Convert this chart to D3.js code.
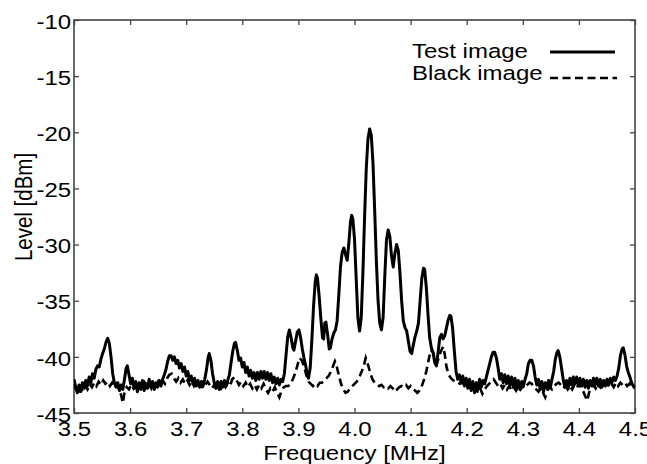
<!DOCTYPE html>
<html>
<head>
<meta charset="utf-8">
<script src="https://cdn.jsdelivr.net/npm/d3@7"></script>
<style>
  body { margin: 0; background: #fff; }
  text { font-family: "Liberation Sans", Arial, sans-serif; fill: #000; }
</style>
</head>
<body>
<svg id="chart" width="647" height="464"></svg>
<script>
// x ticks (MHz) and y ticks (dBm)
var freqTicks = [3.5, 3.6, 3.7, 3.8, 3.9, 4.0, 4.1, 4.2, 4.3, 4.4, 4.5];
var levelTicks = [-45, -40, -35, -30, -25, -20, -15, -10];
var seriesNames = ["Test image", "Black image"];

// Test image spectrum [frequency MHz, level dBm]
var testSeries = [
  [3.500, -42.0], [3.503, -42.7], [3.506, -43.2], [3.509, -42.5], [3.512, -43.1], [3.515, -42.3], [3.518, -42.8],
  [3.521, -42.1], [3.524, -42.6], [3.527, -41.8], [3.530, -42.3], [3.533, -41.5], [3.536, -41.9], [3.539, -41.1],
  [3.542, -40.8], [3.545, -40.9], [3.548, -40.2], [3.551, -39.7], [3.554, -39.3], [3.557, -38.7], [3.560, -38.35],
  [3.563, -38.8], [3.566, -40.0], [3.569, -41.5], [3.572, -42.3], [3.575, -42.7], [3.578, -42.3], [3.581, -43.0],
  [3.584, -42.5], [3.587, -42.9], [3.590, -42.0], [3.593, -41.0], [3.595, -40.8], [3.598, -41.6], [3.601, -42.4],
  [3.604, -41.9], [3.607, -42.8], [3.610, -42.2], [3.613, -43.1], [3.616, -42.3], [3.619, -42.9], [3.622, -42.1],
  [3.625, -43.0], [3.628, -42.4], [3.631, -42.8], [3.634, -42.0], [3.637, -42.7], [3.640, -42.2], [3.643, -42.9],
  [3.646, -42.3], [3.649, -42.7], [3.652, -42.1], [3.655, -42.6], [3.658, -42.0], [3.661, -41.6], [3.664, -41.1],
  [3.667, -40.4], [3.670, -39.9], [3.673, -39.9], [3.676, -40.3], [3.679, -40.0], [3.682, -40.6], [3.685, -40.3],
  [3.688, -41.0], [3.691, -40.6], [3.694, -41.3], [3.697, -40.9], [3.700, -41.7], [3.703, -41.3], [3.706, -42.1],
  [3.709, -41.7], [3.712, -42.4], [3.715, -41.9], [3.718, -42.6], [3.721, -42.1], [3.724, -42.7], [3.727, -42.2],
  [3.730, -42.6], [3.733, -42.0], [3.736, -41.2], [3.739, -40.1], [3.741, -39.7], [3.744, -40.3], [3.747, -41.5],
  [3.750, -42.3], [3.753, -42.8], [3.756, -42.2], [3.759, -42.9], [3.762, -42.2], [3.765, -42.7], [3.768, -42.1],
  [3.771, -42.6], [3.774, -42.1], [3.777, -41.6], [3.780, -40.5], [3.783, -39.5], [3.786, -38.8], [3.788, -38.7],
  [3.791, -39.4], [3.794, -40.3], [3.797, -40.1], [3.800, -40.9], [3.803, -40.5], [3.806, -41.4], [3.809, -40.9],
  [3.812, -41.7], [3.815, -41.2], [3.818, -41.9], [3.821, -41.4], [3.824, -42.1], [3.827, -41.4], [3.830, -42.0],
  [3.833, -41.3], [3.836, -41.9], [3.839, -41.3], [3.842, -42.0], [3.845, -41.4], [3.848, -42.1], [3.851, -41.5],
  [3.854, -42.3], [3.857, -41.8], [3.860, -42.4], [3.863, -41.9], [3.866, -42.5], [3.869, -42.0], [3.872, -42.2],
  [3.875, -41.5], [3.878, -39.8], [3.881, -38.2], [3.884, -37.6], [3.887, -38.3], [3.890, -39.2], [3.892, -39.4],
  [3.895, -38.6], [3.898, -37.8], [3.901, -37.6], [3.904, -38.3], [3.907, -39.3], [3.910, -40.1], [3.913, -40.8],
  [3.916, -41.6], [3.918, -41.9], [3.921, -41.0], [3.924, -38.5], [3.927, -35.5], [3.930, -33.3], [3.932, -32.7],
  [3.934, -33.0], [3.937, -34.6], [3.940, -36.6], [3.943, -38.3], [3.945, -38.4], [3.947, -37.0], [3.949, -36.9],
  [3.952, -38.0], [3.955, -39.3], [3.957, -39.2], [3.960, -38.4], [3.963, -37.9], [3.966, -37.6], [3.969, -36.8],
  [3.972, -34.5], [3.975, -32.0], [3.978, -30.7], [3.981, -30.3], [3.984, -30.9], [3.987, -31.4], [3.990, -29.8],
  [3.993, -27.9], [3.995, -27.4], [3.997, -27.7], [4.000, -29.5], [4.003, -33.0], [4.006, -36.5], [4.009, -37.7],
  [4.012, -36.5], [4.015, -32.5], [4.018, -27.5], [4.021, -23.2], [4.024, -20.6], [4.027, -19.7], [4.030, -20.3],
  [4.033, -22.8], [4.036, -27.0], [4.039, -31.5], [4.042, -35.0], [4.045, -37.0], [4.048, -37.6], [4.051, -36.5],
  [4.054, -32.8], [4.057, -29.6], [4.060, -28.7], [4.063, -29.3], [4.066, -31.0], [4.069, -32.0], [4.072, -30.8],
  [4.075, -30.0], [4.078, -30.5], [4.081, -32.5], [4.084, -35.0], [4.087, -36.8], [4.090, -37.4], [4.093, -37.7],
  [4.096, -38.6], [4.099, -39.5], [4.102, -39.7], [4.105, -38.9], [4.108, -38.2], [4.111, -37.7], [4.114, -37.0],
  [4.117, -35.0], [4.120, -33.0], [4.123, -32.1], [4.125, -32.2], [4.128, -33.8], [4.131, -36.2], [4.134, -38.3],
  [4.137, -39.2], [4.140, -39.6], [4.143, -40.5], [4.146, -40.8], [4.149, -39.6], [4.152, -38.3], [4.155, -38.0],
  [4.158, -38.4], [4.161, -38.1], [4.164, -37.4], [4.167, -36.7], [4.170, -36.3], [4.172, -36.4], [4.175, -37.5],
  [4.178, -39.5], [4.181, -41.3], [4.184, -42.0], [4.187, -41.6], [4.190, -42.3], [4.193, -41.7], [4.196, -42.6],
  [4.199, -41.9], [4.202, -42.8], [4.205, -42.0], [4.208, -43.0], [4.211, -42.2], [4.214, -43.2], [4.217, -42.3],
  [4.220, -42.9], [4.223, -42.0], [4.226, -42.7], [4.229, -42.1], [4.232, -42.4], [4.235, -41.8], [4.238, -41.2],
  [4.241, -40.6], [4.244, -40.0], [4.247, -39.6], [4.250, -39.6], [4.253, -40.1], [4.256, -41.0], [4.259, -42.0],
  [4.262, -41.5], [4.265, -42.3], [4.268, -41.6], [4.271, -42.4], [4.274, -41.7], [4.277, -42.5], [4.280, -41.8],
  [4.283, -42.7], [4.286, -41.9], [4.289, -42.8], [4.292, -42.1], [4.295, -42.9], [4.298, -42.2], [4.301, -42.6],
  [4.304, -42.0], [4.307, -41.5], [4.310, -40.6], [4.313, -40.3], [4.316, -40.3], [4.319, -40.8], [4.322, -41.8],
  [4.325, -42.5], [4.328, -42.0], [4.331, -42.9], [4.334, -42.2], [4.337, -43.1], [4.340, -42.3], [4.343, -42.8],
  [4.346, -42.1], [4.349, -42.7], [4.352, -42.0], [4.355, -41.3], [4.358, -40.2], [4.361, -39.6], [4.363, -39.45],
  [4.366, -40.0], [4.369, -41.0], [4.372, -42.0], [4.375, -42.7], [4.378, -42.1], [4.381, -42.8], [4.384, -41.9],
  [4.387, -42.5], [4.390, -41.8], [4.393, -42.4], [4.396, -41.8], [4.399, -42.5], [4.402, -41.9], [4.405, -42.6],
  [4.408, -42.0], [4.411, -42.7], [4.414, -42.1], [4.417, -42.8], [4.420, -42.1], [4.423, -42.6], [4.426, -41.9],
  [4.429, -42.5], [4.432, -41.9], [4.435, -42.6], [4.438, -42.0], [4.441, -42.7], [4.444, -42.1], [4.447, -42.6],
  [4.450, -42.0], [4.453, -42.5], [4.456, -41.9], [4.459, -42.3], [4.462, -41.8], [4.465, -42.1], [4.468, -41.7],
  [4.471, -41.0], [4.474, -39.9], [4.477, -39.3], [4.479, -39.2], [4.482, -39.8], [4.485, -40.8], [4.488, -41.4],
  [4.491, -41.8], [4.494, -42.3], [4.497, -42.6], [4.500, -42.8]
];

// Black image spectrum [frequency MHz, level dBm]
var blackSeries = [
  [3.500, -42.4], [3.504, -42.9], [3.508, -43.3], [3.512, -42.8], [3.516, -43.1], [3.520, -42.6], [3.524, -42.9],
  [3.528, -42.4], [3.532, -42.7], [3.536, -42.3], [3.540, -42.6], [3.544, -42.2], [3.548, -42.5], [3.552, -42.1],
  [3.556, -42.4], [3.560, -42.2], [3.564, -42.6], [3.568, -42.3], [3.572, -42.7], [3.576, -42.4], [3.580, -42.9],
  [3.584, -43.4], [3.587, -44.1], [3.590, -43.2], [3.594, -42.7], [3.598, -42.9], [3.602, -42.5], [3.606, -42.8],
  [3.610, -42.4], [3.614, -42.9], [3.618, -42.5], [3.622, -42.8], [3.626, -42.3], [3.630, -42.7], [3.634, -42.4],
  [3.638, -42.8], [3.642, -42.3], [3.646, -42.6], [3.650, -42.2], [3.654, -42.5], [3.658, -42.1], [3.662, -42.4],
  [3.666, -41.9], [3.670, -41.6], [3.674, -41.5], [3.678, -41.9], [3.682, -42.2], [3.686, -41.9], [3.690, -42.3],
  [3.694, -42.0], [3.698, -42.4], [3.702, -42.1], [3.706, -42.5], [3.710, -42.2], [3.714, -42.6], [3.718, -42.3],
  [3.722, -42.7], [3.726, -42.4], [3.730, -42.8], [3.734, -42.5], [3.738, -42.2], [3.742, -42.5], [3.746, -42.8],
  [3.750, -42.5], [3.754, -42.9], [3.758, -42.5], [3.762, -42.8], [3.766, -42.4], [3.770, -42.7], [3.774, -42.3],
  [3.778, -42.6], [3.782, -42.0], [3.786, -41.8], [3.790, -42.1], [3.794, -42.5], [3.798, -42.2], [3.802, -42.6],
  [3.806, -42.3], [3.810, -42.7], [3.814, -42.4], [3.818, -42.8], [3.822, -42.5], [3.826, -42.9], [3.830, -42.5],
  [3.834, -42.8], [3.838, -42.4], [3.842, -42.9], [3.846, -43.2], [3.850, -42.8], [3.854, -43.1], [3.858, -42.7],
  [3.862, -43.2], [3.866, -43.6], [3.870, -43.0], [3.874, -42.7], [3.878, -42.6], [3.882, -42.6], [3.886, -42.4],
  [3.890, -42.0], [3.894, -41.5], [3.898, -40.8], [3.902, -40.1], [3.906, -40.3], [3.910, -40.8], [3.914, -41.6],
  [3.918, -42.2], [3.922, -42.4], [3.926, -42.6], [3.930, -42.4], [3.934, -42.6], [3.938, -42.3], [3.942, -42.3],
  [3.946, -42.1], [3.950, -41.9], [3.954, -41.7], [3.958, -41.3], [3.962, -40.8], [3.965, -40.4], [3.968, -40.8],
  [3.972, -41.6], [3.976, -42.4], [3.980, -42.9], [3.984, -43.2], [3.988, -43.1], [3.992, -42.8], [3.996, -42.6],
  [4.000, -42.4], [4.004, -42.2], [4.008, -41.9], [4.012, -41.4], [4.016, -40.9], [4.020, -40.1], [4.024, -40.7],
  [4.028, -41.4], [4.032, -42.0], [4.036, -42.3], [4.040, -42.4], [4.044, -42.6], [4.048, -42.5], [4.052, -42.7],
  [4.056, -42.6], [4.060, -42.8], [4.064, -42.6], [4.068, -42.8], [4.072, -42.6], [4.076, -42.9], [4.080, -42.7],
  [4.084, -42.6], [4.088, -42.7], [4.092, -42.5], [4.096, -42.8], [4.100, -42.6], [4.104, -42.9], [4.108, -43.0],
  [4.112, -43.2], [4.116, -43.0], [4.120, -42.6], [4.124, -42.0], [4.128, -41.3], [4.132, -40.3], [4.136, -39.4],
  [4.140, -39.6], [4.144, -40.3], [4.147, -40.6], [4.150, -40.1], [4.154, -39.5], [4.158, -39.1], [4.161, -39.8],
  [4.164, -40.9], [4.168, -41.6], [4.172, -41.9], [4.176, -42.1], [4.180, -42.1], [4.184, -42.3], [4.188, -42.4],
  [4.192, -42.3], [4.196, -42.5], [4.200, -42.3], [4.204, -42.6], [4.208, -42.8], [4.212, -43.1], [4.216, -42.7],
  [4.220, -43.2], [4.224, -42.8], [4.228, -43.3], [4.232, -42.9], [4.236, -42.6], [4.240, -42.4], [4.244, -42.2],
  [4.248, -42.0], [4.252, -42.3], [4.256, -42.6], [4.260, -42.4], [4.264, -42.8], [4.268, -42.5], [4.272, -42.9],
  [4.276, -42.6], [4.280, -43.0], [4.284, -42.7], [4.288, -43.0], [4.292, -42.6], [4.296, -42.9], [4.300, -42.6],
  [4.304, -42.8], [4.308, -42.5], [4.312, -42.3], [4.316, -42.4], [4.320, -42.7], [4.324, -42.9], [4.328, -43.1],
  [4.332, -42.8], [4.336, -43.2], [4.340, -43.6], [4.344, -43.0], [4.348, -42.7], [4.352, -42.9], [4.356, -42.6],
  [4.360, -42.4], [4.364, -42.3], [4.368, -42.5], [4.372, -42.8], [4.376, -42.6], [4.380, -42.9], [4.384, -42.6],
  [4.388, -42.9], [4.392, -42.5], [4.396, -42.8], [4.400, -42.4], [4.404, -42.8], [4.408, -43.1], [4.412, -43.6],
  [4.415, -43.9], [4.418, -43.2], [4.422, -42.8], [4.426, -42.5], [4.430, -42.8], [4.434, -42.4], [4.438, -42.7],
  [4.442, -42.3], [4.446, -42.6], [4.450, -42.3], [4.454, -42.7], [4.458, -42.4], [4.462, -42.7], [4.466, -42.3],
  [4.470, -42.6], [4.474, -42.3], [4.478, -42.5], [4.482, -42.3], [4.486, -42.6], [4.490, -42.4], [4.494, -42.8],
  [4.498, -42.6], [4.500, -42.7]
];

var stretch = 1.17; // text in the picture is a bit wider than normal

var svg = d3.select("#chart"),
    margin = {top: 20, right: 12, bottom: 51, left: 74},
    width = 647 - margin.left - margin.right,
    height = 464 - margin.top - margin.bottom,
    g = svg.append("g").attr("transform", "translate(" + margin.left + "," + margin.top + ")");

var x = d3.scaleLinear().domain([3.5, 4.5]).range([0, width]);
var y = d3.scaleLinear().domain([-45, -10]).range([height, 0]);

svg.append("defs").append("clipPath").attr("id", "clip")
    .append("rect").attr("width", width).attr("height", height);

// axes, ticks pointing inward
g.append("g")
    .attr("transform", "translate(0," + height + ")")
    .call(d3.axisBottom(x).tickValues(freqTicks).tickSizeInner(-5).tickSizeOuter(0).tickPadding(8)
        .tickFormat(function (d) { return d.toFixed(1); }));
g.append("g")
    .call(d3.axisTop(x).tickValues(freqTicks).tickSizeInner(-5).tickSizeOuter(0).tickFormat(""));
var yAxis = g.append("g")
    .call(d3.axisLeft(y).tickValues(levelTicks).tickSizeInner(-5).tickSizeOuter(0).tickPadding(2.5)
        .tickFormat(function (d) { return String(d); }));
g.append("g")
    .attr("transform", "translate(" + width + ",0)")
    .call(d3.axisRight(y).tickValues(levelTicks).tickSizeInner(-5).tickSizeOuter(0).tickFormat(""));

g.selectAll(".domain").remove();
g.selectAll(".tick line").attr("stroke", "#444").attr("stroke-width", 1.3);
g.selectAll(".tick text").attr("font-size", 20.5).attr("font-family", null).attr("fill", "#000")
    .attr("transform", "scale(" + stretch + ",1)");
yAxis.selectAll(".tick text").attr("dy", "0.4em");

g.append("rect")
    .attr("width", width).attr("height", height)
    .attr("fill", "none").attr("stroke", "#444").attr("stroke-width", 1.6);

var line = d3.line()
    .x(function (d) { return x(d[0]); })
    .y(function (d) { return y(d[1]); });

var plot = g.append("g").attr("clip-path", "url(#clip)");

plot.append("path")
    .datum(testSeries)
    .attr("d", line)
    .attr("fill", "none")
    .attr("stroke", "#000")
    .attr("stroke-width", 3)
    .attr("stroke-linejoin", "round");

plot.append("path")
    .datum(blackSeries)
    .attr("d", line)
    .attr("fill", "none")
    .attr("stroke", "#000")
    .attr("stroke-width", 2.6)
    .attr("stroke-dasharray", "8,4.5");

// axis labels
svg.append("text")
    .attr("transform", "translate(" + (margin.left + width / 2) + ",460) scale(" + stretch + ",1)")
    .attr("text-anchor", "middle")
    .attr("font-size", 20.5)
    .text("Frequency [MHz]");

svg.append("text")
    .attr("transform", "translate(31.5,207) scale(" + stretch + ",1) rotate(-90)")
    .attr("text-anchor", "middle")
    .attr("font-size", 20.5)
    .text("Level [dBm]");

// legend
var legend = svg.append("g");
[0, 1].forEach(function (i) {
    legend.append("text")
        .attr("transform", "translate(412," + (58 + i * 22) + ") scale(" + stretch + ",1)")
        .attr("font-size", 20.5)
        .text(seriesNames[i]);
    legend.append("line")
        .attr("x1", 550).attr("x2", i ? 617 : 615)
        .attr("y1", i ? 78 : 52).attr("y2", i ? 78 : 52)
        .attr("stroke", "#000")
        .attr("stroke-width", i ? 2.6 : 3)
        .attr("stroke-dasharray", i ? "8,4.5" : null);
});
</script>
</body>
</html>
